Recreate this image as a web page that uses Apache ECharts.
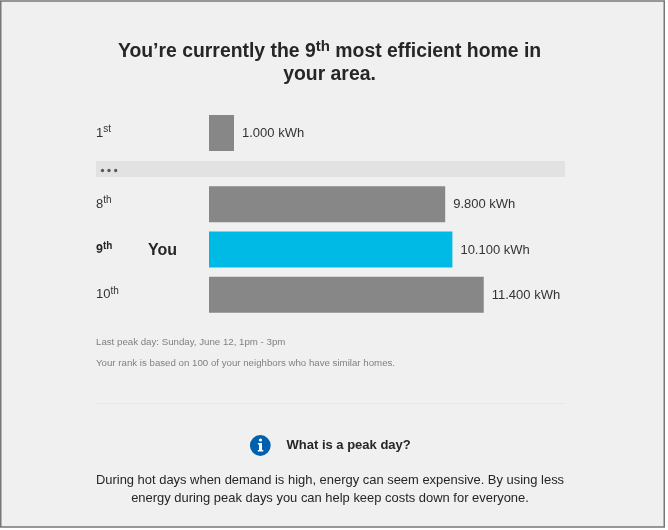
<!DOCTYPE html>
<html>
<head>
<meta charset="utf-8">
<style>html,body{margin:0;padding:0;background:#fff;overflow:hidden}#c{width:668px;height:530px}</style>
<script src="https://cdn.jsdelivr.net/npm/echarts@6/dist/echarts.min.js"></script>
</head>
<body>
<div id="c"></div>
<script>
const topRanks = ['1|st'];
const topValues = [1.0];
const nearRanks = ['8|th', '9|th', '10|th'];
const nearValues = [9.8, 10.1, 11.4];
const youRank = '9|th';
const youLabel = 'You';
const unit = 'kWh';
const titleLines = ['{t|You’re currently the 9}{ts|th}{t| most efficient home in}', '{t|your area.}'];
const notes = ['Last peak day: Sunday, June 12, 1pm - 3pm', 'Your rank is based on 100 of your neighbors who have similar homes.'];
const infoHeading = 'What is a peak day?';
const infoBody = ['During hot days when demand is high, energy can seem expensive. By using less', 'energy during peak days you can help keep costs down for everyone.'];

const FONT = '"Liberation Sans", Arial, sans-serif';
const GREY = '#878787', BLUE = '#00bae6', INK = '#262626';

function rankLabel(r) {
  const [n, s] = r.split('|');
  if (r === youRank) return `{nb|${n}}{sb|${s}}{gap|}{you|${youLabel}}`;
  return `{n|${n}}{s|${s}}`;
}
const rankRich = {
  n: {fontFamily: FONT, fontSize: 13, color: '#333'},
  s: {fontFamily: FONT, fontSize: 10, color: '#333', padding: [0, 0, 8, 0]},
  nb: {fontFamily: FONT, fontSize: 12.5, fontWeight: 'bold', color: INK},
  sb: {fontFamily: FONT, fontSize: 10, fontWeight: 'bold', color: INK, padding: [0, 0, 7, 0]},
  gap: {width: 35.7},
  you: {fontFamily: FONT, fontSize: 16, fontWeight: 'bold', color: INK, padding: [2, 0, 0, 0]}
};
function barSeries(idx, values, ranks) {
  return {
    type: 'bar', xAxisIndex: idx, yAxisIndex: idx, barWidth: 36, silent: true,
    data: values.map((v, i) => ({value: v, itemStyle: {color: ranks[i] === youRank ? BLUE : GREY}})),
    label: {show: true, position: 'right', distance: 8, offset: [0, 0.5], fontFamily: FONT, fontSize: 13, color: '#333',
      formatter: p => p.value.toFixed(3) + ' ' + unit}
  };
}
function yAxis(idx, ranks) {
  return {
    type: 'category', gridIndex: idx, inverse: true, data: ranks,
    axisLine: {show: false}, axisTick: {show: false}, splitLine: {show: false},
    axisLabel: {align: 'left', margin: 113, formatter: rankLabel, rich: rankRich}
  };
}
function xAxis(idx) {
  return {type: 'value', gridIndex: idx, min: 0, max: 14, show: false};
}
function text(x, y, t, style) {
  return {type: 'text', x, y, silent: true,
    style: Object.assign({text: t, fontFamily: FONT, verticalAlign: 'middle'}, style)};
}
const chart = echarts.init(document.getElementById('c'), null, {renderer: 'canvas'});
chart.setOption({
  backgroundColor: '#ffffff',
  animation: false,
  grid: [
    {left: 209, top: 115, width: 350, height: 36},
    {left: 209, top: 181.5, width: 337.4, height: 136}
  ],
  xAxis: [xAxis(0), xAxis(1)],
  yAxis: [yAxis(0, topRanks), yAxis(1, nearRanks)],
  series: [barSeries(0, topValues, topRanks), barSeries(1, nearValues, nearRanks)],
  title: {
    left: 324.5, top: 35, textAlign: 'center',
    text: titleLines.join('\n'),
    textStyle: {
      rich: {
        t: {fontFamily: FONT, fontSize: 19.4, fontWeight: 'bold', color: INK, lineHeight: 23},
        ts: {fontFamily: FONT, fontSize: 15, fontWeight: 'bold', color: INK, padding: [0, 0, 10, 0], lineHeight: 23}
      }
    }
  },
  graphic: [
    {type: 'rect', z: -10, silent: true, shape: {x: 0.75, y: 1, width: 663.5, height: 526},
      style: {fill: '#f0f0f0', stroke: '#777', lineWidth: 1.5}},
    {type: 'rect', z: -5, silent: true, shape: {x: 96, y: 161, width: 469, height: 16}, style: {fill: '#e2e2e2'}},
    {type: 'circle', silent: true, shape: {cx: 102.5, cy: 170.5, r: 1.7}, style: {fill: '#5a5a5a'}},
    {type: 'circle', silent: true, shape: {cx: 109, cy: 170.5, r: 1.7}, style: {fill: '#5a5a5a'}},
    {type: 'circle', silent: true, shape: {cx: 115.7, cy: 170.5, r: 1.7}, style: {fill: '#5a5a5a'}},
    text(96, 342.5, notes[0], {fontSize: 9.7, fill: '#808080'}),
    text(96, 363.5, notes[1], {fontSize: 9.7, fill: '#808080'}),
    {type: 'line', silent: true, shape: {x1: 96, y1: 403.5, x2: 564, y2: 403.5}, style: {stroke: '#e6e6e6', lineWidth: 1}},
    {type: 'circle', silent: true, shape: {cx: 260.3, cy: 445.5, r: 10.4}, style: {fill: '#0060ae'}},
    {type: 'circle', silent: true, shape: {cx: 260.5, cy: 440, r: 1.6}, style: {fill: '#fff'}},
    {type: 'rect', silent: true, shape: {x: 259, y: 443, width: 3, height: 8}, style: {fill: '#fff'}},
    {type: 'rect', silent: true, shape: {x: 257.8, y: 443, width: 2, height: 1.5}, style: {fill: '#fff'}},
    {type: 'rect', silent: true, shape: {x: 257.8, y: 450, width: 5.5, height: 1.5}, style: {fill: '#fff'}},
    text(286.5, 445.5, infoHeading, {fontSize: 13, fontWeight: 'bold', fill: INK}),
    text(330, 480.5, infoBody[0], {fontSize: 12.95, fill: INK, align: 'center'}),
    text(330, 498.5, infoBody[1], {fontSize: 12.95, fill: INK, align: 'center'})
  ]
});
</script>
</body>
</html>
